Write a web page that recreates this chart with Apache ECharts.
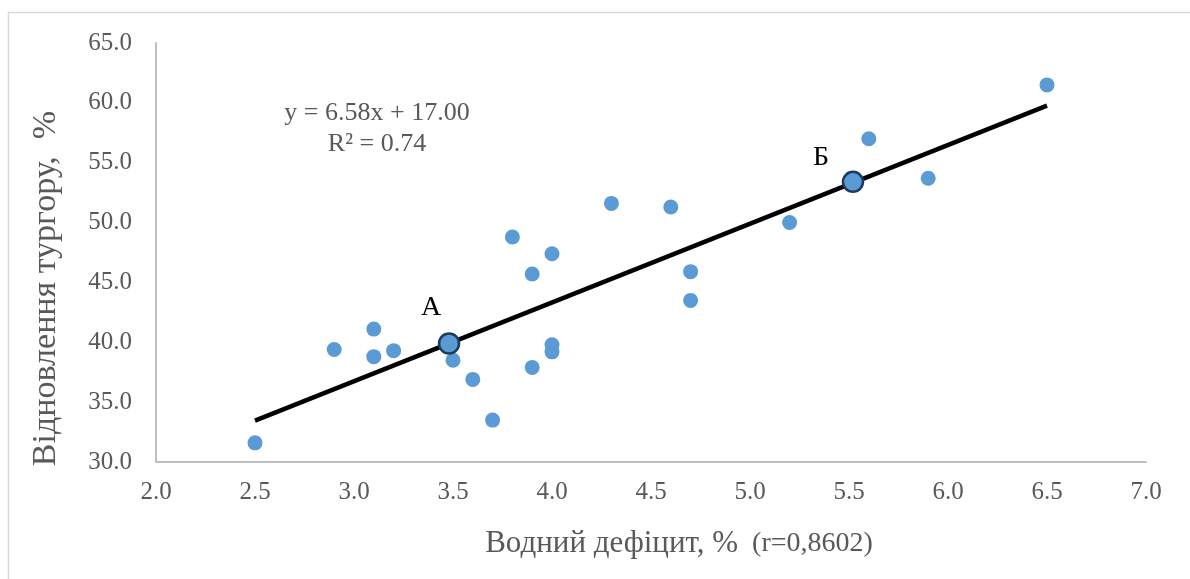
<!DOCTYPE html>
<html>
<head>
<meta charset="utf-8">
<style>
  html, body { margin: 0; padding: 0; background: #ffffff; }
  #chart { width: 1190px; height: 579px; }
</style>
<script src="https://cdn.jsdelivr.net/npm/echarts@6/dist/echarts.min.js"></script>
</head>
<body>
<div id="chart"></div>
<script>
// Water deficit (%) vs. turgor recovery (%)
const waterDeficit = [2.5, 2.9, 3.1, 3.1, 3.2, 3.5, 3.6, 3.7, 3.8, 3.9, 3.9, 4.0, 4.0, 4.0, 4.3, 4.6, 4.7, 4.7, 5.2, 5.6, 5.9, 6.5];
const turgorRecovery = [31.6, 39.4, 41.1, 38.8, 39.3, 38.5, 36.9, 33.5, 48.8, 45.7, 37.9, 47.4, 39.8, 39.2, 51.6, 51.3, 45.9, 43.5, 50.0, 57.0, 53.7, 61.5];

// Reference points on the fitted line
const keyNames = ['А', 'Б'];
const keyX = [3.48, 5.52];
const keyY = [39.9, 53.4];

// Linear fit coefficients
const fitSlope = 6.58;
const fitIntercept = 17.00;
const fitR2 = 0.74;

const xTicks = { min: 2, max: 7, step: 0.5 };
const yTicks = { min: 30, max: 65, step: 5 };

const xLo = Math.min(...waterDeficit);
const xHi = Math.max(...waterDeficit);
const fitLine = [xLo, xHi].map(x => [x, fitSlope * x + fitIntercept]);

const points = waterDeficit.map((x, i) => [x, turgorRecovery[i]]);
const keyOffsets = [[-18, -36], [-32, -24]];
const keyPoints = keyX.map((x, i) => ({
  value: [x, keyY[i]],
  name: keyNames[i],
  label: { offset: keyOffsets[i] }
}));

const serif = '"Liberation Serif", "DejaVu Serif", serif';
const grey = '#595959';

const chart = echarts.init(document.getElementById('chart'), null, { renderer: 'canvas' });
chart.setOption({
  animation: false,
  backgroundColor: '#ffffff',
  grid: { left: 156, top: 43, right: 44, bottom: 117, containLabel: false },
  xAxis: {
    type: 'value',
    min: xTicks.min, max: xTicks.max, interval: xTicks.step,
    axisLine: { lineStyle: { color: '#bfbfbf', width: 2 } },
    axisTick: { show: false },
    splitLine: { show: false },
    axisLabel: {
      margin: 18, color: grey, fontFamily: serif, fontSize: 25,
      formatter: v => v.toFixed(1)
    },
    name: '{a|Водний дефіцит, %}{b|  (r=0,8602)}',
    nameLocation: 'middle',
    nameGap: 66,
    nameTextStyle: {
      padding: [0, 0, 0, 56],
      rich: {
        a: { fontFamily: serif, fontSize: 31, color: grey },
        b: { fontFamily: serif, fontSize: 28, color: grey }
      }
    }
  },
  yAxis: {
    type: 'value',
    min: yTicks.min, max: yTicks.max, interval: yTicks.step,
    axisLine: { show: true, lineStyle: { color: '#bfbfbf', width: 2 } },
    axisTick: { show: false },
    splitLine: { show: false },
    axisLabel: {
      margin: 24, color: grey, fontFamily: serif, fontSize: 25,
      formatter: v => v.toFixed(1)
    },
    name: 'Відновлення тургору,  %',
    nameLocation: 'middle',
    nameGap: 93,
    nameTextStyle: {
      fontFamily: serif, fontSize: 34, color: grey,
      padding: [0, 72, 0, 0]
    }
  },
  graphic: [
    {
      type: 'rect', silent: true, z: -1,
      shape: { x: 8.5, y: 12.5, width: 1300, height: 700 },
      style: { fill: 'none', stroke: '#d9d9d9', lineWidth: 1.5 }
    },
    {
      type: 'text', silent: true,
      x: 377, y: 129,
      style: {
        text: 'y = ' + fitSlope.toFixed(2) + 'x + ' + fitIntercept.toFixed(2) + '\nR² = ' + fitR2.toFixed(2),
        font: '26px ' + serif, fill: grey,
        textAlign: 'center', textVerticalAlign: 'middle', lineHeight: 31
      }
    }
  ],
  series: [
    {
      type: 'scatter',
      data: points,
      symbolSize: 15,
      itemStyle: { color: '#5b9bd5', opacity: 1 },
      z: 2
    },
    {
      type: 'line',
      data: fitLine,
      showSymbol: false,
      lineStyle: { color: '#000000', width: 4.5 },
      z: 3
    },
    {
      type: 'scatter',
      data: keyPoints,
      symbolSize: 20,
      itemStyle: { color: '#5b9bd5', opacity: 1, borderColor: '#1f3b5c', borderWidth: 2.5 },
      label: {
        show: true,
        formatter: p => p.name,
        position: 'inside',
        fontFamily: serif, fontSize: 28, color: '#000000'
      },
      z: 4
    }
  ]
});
</script>
</body>
</html>
